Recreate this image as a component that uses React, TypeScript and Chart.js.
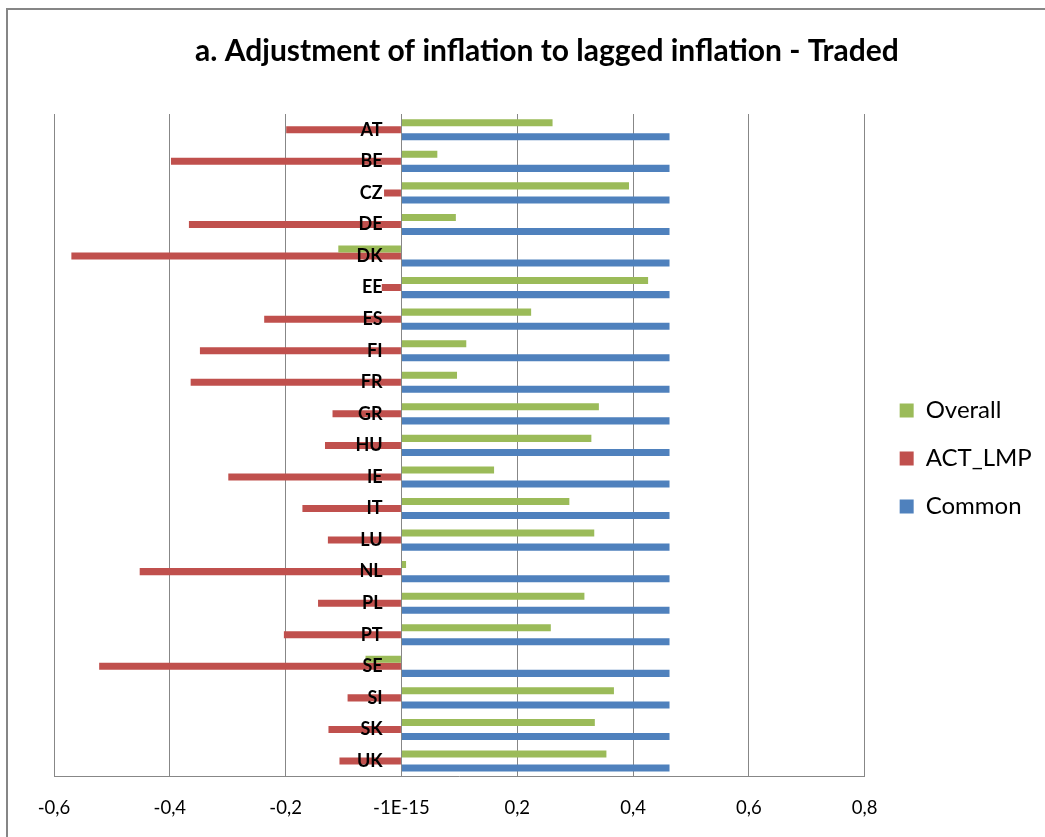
import React, { useEffect, useRef } from "react";
import { Chart, registerables } from "chart.js";

Chart.register(...registerables);

const countries = ["AT", "BE", "CZ", "DE", "DK", "EE", "ES", "FI", "FR", "GR", "HU", "IE", "IT", "LU", "NL", "PL", "PT", "SE", "SI", "SK", "UK"];
const overall = [0.261, 0.062, 0.393, 0.094, -0.109, 0.426, 0.224, 0.112, 0.096, 0.341, 0.328, 0.160, 0.290, 0.333, 0.008, 0.316, 0.258, -0.062, 0.367, 0.334, 0.354];
const actLmp = [-0.199, -0.398, -0.030, -0.367, -0.570, -0.034, -0.237, -0.348, -0.364, -0.119, -0.132, -0.299, -0.171, -0.127, -0.452, -0.144, -0.203, -0.522, -0.093, -0.126, -0.107];
const common = [0.463, 0.463, 0.463, 0.463, 0.463, 0.463, 0.463, 0.463, 0.463, 0.463, 0.463, 0.463, 0.463, 0.463, 0.463, 0.463, 0.463, 0.463, 0.463, 0.463, 0.463];
const xTickLabels = ["-0,6", "-0,4", "-0,2", "-1E-15", "0,2", "0,4", "0,6", "0,8"];
const title = "a. Adjustment of inflation to lagged inflation - Traded";

const FONT = "Lato, 'Open Sans', sans-serif";

export default function App() {
  const ref = useRef<HTMLCanvasElement>(null);
  useEffect(() => {
    if (!ref.current) return;
    const chart = new Chart(ref.current, {
      type: "bar",
      data: {
        labels: countries,
        datasets: [
          { label: "Overall", data: overall, backgroundColor: "#9BBB59" },
          { label: "ACT_LMP", data: actLmp, backgroundColor: "#C0504D" },
          { label: "Common", data: common, backgroundColor: "#4F81BD" },
        ],
      },
      options: {
        indexAxis: "y",
        animation: false,
        responsive: false,
        maintainAspectRatio: false,
        datasets: { bar: { categoryPercentage: 0.67, barPercentage: 1.0 } },
        layout: { padding: { left: 46, right: 5, top: 0, bottom: -2 } },
        plugins: {
          title: {
            display: true,
            text: title,
            color: "#000",
            font: { family: FONT, size: 30, weight: "bold", lineHeight: 1.2 },
            padding: { top: 23, bottom: 45 },
          },
          legend: {
            position: "right",
            title: {
              display: true,
              text: "",
              padding: 0,
              font: { size: 10, lineHeight: "68px" },
            },
            labels: {
              boxWidth: 14,
              boxHeight: 14,
              padding: 24,
              color: "#000",
              font: { family: FONT, size: 24 },
            },
          },
          tooltip: { enabled: false },
        },
        scales: {
          x: {
            type: "linear",
            min: -0.6,
            max: 0.8,
            ticks: {
              stepSize: 0.2,
              color: "#000",
              padding: 20,
              font: { family: FONT, size: 18.5 },
              callback: (_v: any, i: number) => xTickLabels[i],
            },
            grid: { color: "#878787", lineWidth: 1, drawTicks: false },
            border: { color: "#878787", width: 1 },
          },
          y: {
            type: "category",
            position: { x: -0.0325 } as any,
            ticks: {
              z: 1,
              color: "#000",
              padding: 0,
              font: { family: FONT, size: 18, weight: "bold" },
            },
            grid: { display: false, drawTicks: false },
            border: { display: false },
          },
          spacer: {
            type: "linear",
            position: "right",
            display: true,
            ticks: { display: false },
            grid: { display: false, drawTicks: false },
            border: { display: false },
            afterFit: (s: any) => {
              s.width = 11;
            },
          },
        } as any,
      },
    });
    return () => chart.destroy();
  }, []);

  return (
    <div
      style={{
        position: "fixed",
        left: 6,
        top: 8,
        width: 1039,
        height: 829,
        boxSizing: "border-box",
        borderLeft: "2px solid #868686",
        borderTop: "2px solid #868686",
        background: "#fff",
      }}
    >
      <canvas ref={ref} width={1037} height={827} style={{ display: "block" }} />
    </div>
  );
}
